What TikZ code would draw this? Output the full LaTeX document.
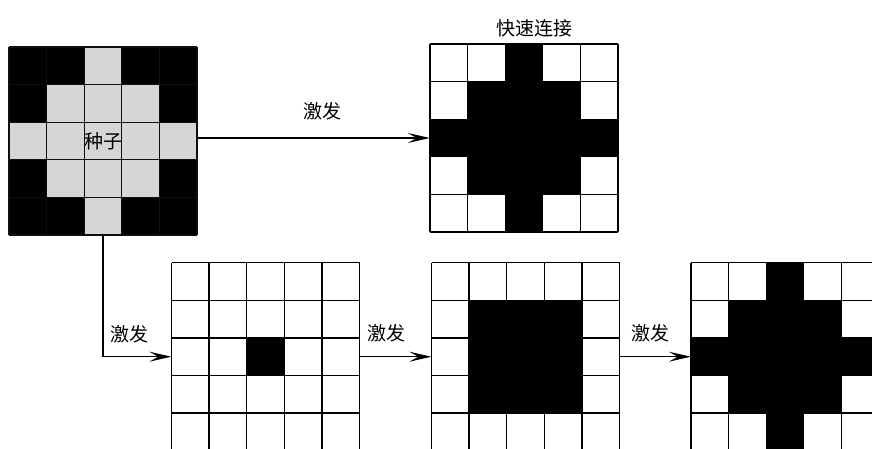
\documentclass[tikz,border=0pt]{standalone}
\usepackage{fontspec}
\setmainfont{Noto Sans CJK SC}
\usetikzlibrary{arrows.meta}
\definecolor{seedgray}{HTML}{D6D6D6}
\tikzset{
  gridbox/.style={inner sep=0pt, minimum width=188pt, minimum height=188pt},
  gridline/.style={line width=1.3pt, draw=black},
  seedline/.style={line width=1.1pt, draw=black!94},
  arr/.style={line width=1.2pt, -{Stealth[length=22pt,width=10pt,inset=9pt]}},
  lbl/.style={font=\fontsize{19}{20}\selectfont, inner sep=0pt},
}
\newcommand{\mygridlines}[3]{% x0, y0, style
  \foreach \k in {0,...,5}{
    \draw[#3] (#1+\k*37.6, #2) -- (#1+\k*37.6, #2+188);
    \draw[#3] (#1, #2+\k*37.6) -- (#1+188, #2+\k*37.6);
  }
}
\begin{document}
\begin{tikzpicture}[x=1pt,y=-1pt]
\clip (0,0) rectangle (872,449);
\fill[white] (0,0) rectangle (872,449);

% seed grid
\fill[seedgray] (9,47) rectangle ++(188,188);
\foreach \c/\r in {0/0,1/0,3/0,4/0,0/1,4/1,0/3,4/3,0/4,1/4,3/4,4/4}
  \fill[black] (9+\c*37.6,47+\r*37.6) rectangle ++(37.6,37.6);
\mygridlines{9}{47}{seedline}
\node[gridbox, lbl] (seed) at (103,141) {种子};

% fast connection grid
\foreach \c/\r in {2/0,1/1,2/1,3/1,0/2,1/2,2/2,3/2,4/2,1/3,2/3,3/3,2/4}
  \fill[black] (430+\c*37.6,44+\r*37.6) rectangle ++(37.6,37.6);
\mygridlines{430}{44}{gridline}
\node[gridbox] (fast) at (524,138) {};
\node[lbl] (fastlbl) at (534,28) {快速连接};

% bottom grid 1
\fill[black] (171.5+2*37.6,262.7+2*37.6) rectangle ++(37.6,37.6);
\mygridlines{171.5}{262.7}{gridline}
\node[gridbox] (g1) at (265.5,356.7) {};

% bottom grid 2
\fill[black] (431.5+37.6,262.7+37.6) rectangle ++(112.8,112.8);
\mygridlines{431.5}{262.7}{gridline}
\node[gridbox] (g2) at (525.5,356.7) {};

% bottom grid 3
\foreach \c/\r in {2/0,1/1,2/1,3/1,0/2,1/2,2/2,3/2,4/2,1/3,2/3,3/3,2/4}
  \fill[black] (691+\c*37.6,262.7+\r*37.6) rectangle ++(37.6,37.6);
\mygridlines{691}{262.7}{gridline}
\node[gridbox] (g3) at (785,356.7) {};

% arrows
\draw[arr] (seed.east |- fast.west) -- (fast.west);
\draw[arr] (seed.south) |- (g1.west);
\draw[arr] (g1.east) -- (g2.west);
\draw[arr] (g2.east) -- (g3.west);

% labels
\node[lbl] (l1) at (322.5,111.7) {激发};
\node[lbl] (l2) at (129,334) {激发};
\node[lbl] (l3) at (386.7,333) {激发};
\node[lbl] (l4) at (650.8,333) {激发};
\end{tikzpicture}
\end{document}
